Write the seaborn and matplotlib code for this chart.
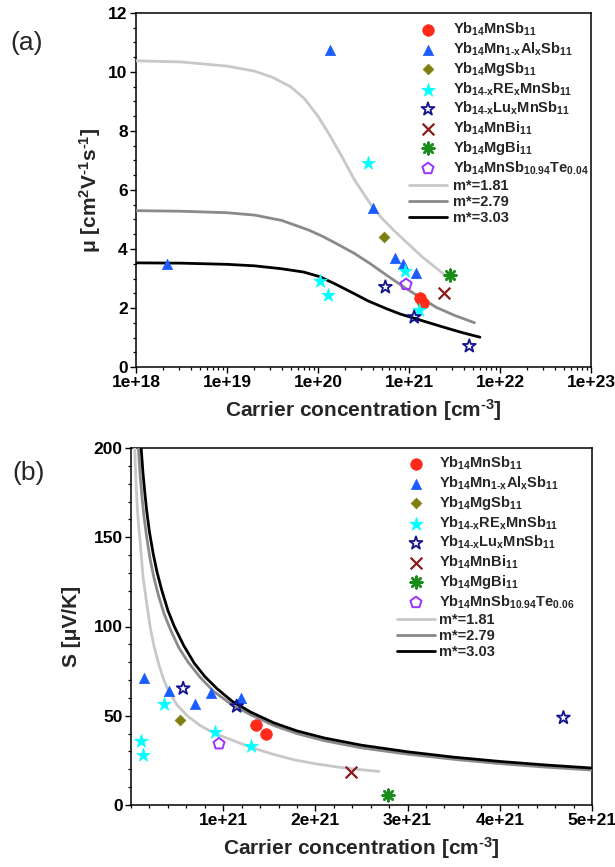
import numpy as np
import pandas as pd
import matplotlib
matplotlib.use("Agg")
import matplotlib.pyplot as plt
import seaborn as sns
from matplotlib.ticker import MultipleLocator, LogLocator, NullFormatter, FixedLocator

HY = "\u2010"  # short hyphen used in the formula subscripts

# ---------------- data: panel (a) mobility vs carrier concentration ----------------
series_labels_a = [r"Yb$_{14}$MnSb$_{11}$", "Yb$_{14}$Mn$_{1" + HY + "x}$Al$_{x}$Sb$_{11}$",
                   r"Yb$_{14}$MgSb$_{11}$", "Yb$_{14" + HY + "x}$RE$_{x}$MnSb$_{11}$",
                   "Yb$_{14" + HY + "x}$Lu$_{x}$MnSb$_{11}$", r"Yb$_{14}$MnBi$_{11}$",
                   r"Yb$_{14}$MgBi$_{11}$", r"Yb$_{14}$MnSb$_{10.94}$Te$_{0.04}$"]
series_labels_b = series_labels_a[:7] + [r"Yb$_{14}$MnSb$_{10.94}$Te$_{0.06}$"]

mnsb_a_n = [1.32e21, 1.44e21];                    mnsb_a_mu = [2.33, 2.18]
al_a_n = [2.17e18, 1.35e20, 4.05e20, 7.0e20, 8.65e20, 1.18e21]
al_a_mu = [3.49, 10.75, 5.38, 3.68, 3.49, 3.20]
mg_a_n = [5.3e20];                                mg_a_mu = [4.41]
re_a_n = [1.05e20, 1.3e20, 3.57e20, 9.0e20, 1.3e21]
re_a_mu = [2.91, 2.43, 6.90, 3.24, 1.94]
lu_a_n = [5.5e20, 1.14e21, 4.6e21];               lu_a_mu = [2.71, 1.69, 0.71]
bi_a_n = [2.4e21];                                bi_a_mu = [2.51]
mgbi_a_n = [2.8e21];                              mgbi_a_mu = [3.13]
te_a_n = [9.3e20];                                te_a_mu = [2.80]

m181_a_n = [1e18, 3.16e18, 1e19, 2e19, 3.16e19, 5.0e19, 7.08e19, 1e20, 1.35e20, 1.78e20,
            2.51e20, 3.72e20, 5.01e20, 6.76e20, 1e21, 1.41e21, 2e21, 2.82e21]
m181_a_mu = [10.38, 10.34, 10.2, 10.03, 9.82, 9.5, 9.1, 8.5, 7.85, 7.2,
             6.35, 5.55, 5.05, 4.64, 4.15, 3.72, 3.35, 2.97]
m279_a_n = [1e18, 3.16e18, 1e19, 2e19, 3.98e19, 7.94e19, 1.12e20, 1.58e20, 2.51e20, 3.72e20,
            5.62e20, 8.71e20, 1.26e21, 2e21, 3.16e21, 5.25e21]
m279_a_mu = [5.30, 5.28, 5.23, 5.15, 4.97, 4.64, 4.43, 4.19, 3.85, 3.51,
             3.12, 2.72, 2.4, 2.02, 1.75, 1.50]
m303_a_n = [1e18, 3.16e18, 1e19, 2e19, 3.98e19, 6.92e19, 1.05e20, 1.58e20, 2.45e20, 3.55e20,
            5.62e20, 7.94e20, 1.12e21, 1.58e21, 2.4e21, 3.8e21, 6.03e21]
m303_a_mu = [3.53, 3.52, 3.48, 3.43, 3.33, 3.22, 3.06, 2.8, 2.5, 2.24,
             1.98, 1.8, 1.66, 1.52, 1.35, 1.17, 1.01]

# ---------------- data: panel (b) Seebeck vs carrier concentration ----------------
mnsb_b_n = [1.36e21, 1.46e21];                    mnsb_b_S = [45.0, 40.0]
al_b_n = [0.144e21, 0.414e21, 0.695e21, 0.872e21, 1.19e21]
al_b_S = [70.9, 63.8, 56.7, 62.9, 59.7]
mg_b_n = [0.53e21];                               mg_b_S = [47.8]
re_b_n = [0.108e21, 0.126e21, 0.36e21, 0.912e21, 1.297e21]
re_b_S = [35.6, 27.8, 56.7, 40.7, 32.8]
lu_b_n = [0.566e21, 1.146e21, 4.69e21];           lu_b_S = [65.3, 55.3, 48.9]
bi_b_n = [2.39e21];                               bi_b_S = [18.3]
mgbi_b_n = [2.79e21];                             mgbi_b_S = [5.6]
te_b_n = [0.955e21];                              te_b_S = [34.3]

m181_b_n = [0.04e21, 0.055e21, 0.07e21, 0.085e21, 0.1e21, 0.13e21, 0.17e21, 0.21e21,
            0.25e21, 0.3e21, 0.35e21, 0.4e21, 0.5e21, 0.61e21, 0.75e21, 0.9e21,
            1.1e21, 1.3e21, 1.55e21, 1.77e21, 2.0e21, 2.25e21, 2.49e21, 2.69e21]
m181_b_S = [200, 180, 165, 155, 147, 128, 113, 99,
            89, 79, 71, 64.5, 56, 50, 44.5, 40.3,
            36.3, 32.3, 28.3, 25.3, 23.1, 21.2, 19.8, 18.8]
m279_b_n = [0.08e21, 0.1e21, 0.12e21, 0.14e21, 0.17e21, 0.21e21, 0.25e21, 0.3e21,
            0.36e21, 0.43e21, 0.52e21, 0.62e21, 0.75e21, 0.9e21, 1.1e21, 1.3e21,
            1.55e21, 1.8e21, 2.1e21, 2.5e21, 3.0e21, 3.5e21, 4.0e21, 4.5e21, 5.0e21]
m279_b_S = [200, 184, 172, 162, 150, 137, 127, 117,
            107, 98, 88, 80, 71.5, 63.5, 56, 50.5,
            44.5, 40, 36, 32, 28.5, 25.6, 23.2, 21.2, 19.6]
m303_b_n = [0.11e21, 0.13e21, 0.15e21, 0.17e21, 0.2e21, 0.24e21, 0.28e21, 0.33e21,
            0.4e21, 0.47e21, 0.57e21, 0.685e21, 0.8e21, 0.937e21, 1.1e21, 1.3e21,
            1.55e21, 1.8e21, 2.1e21, 2.5e21, 3.0e21, 3.5e21, 4.0e21, 4.5e21, 5.0e21]
m303_b_S = [200, 186, 175, 165, 153, 141, 131, 121,
            109, 100, 89.5, 79.5, 72, 65, 58, 52,
            46, 41.5, 37.5, 33.5, 29.8, 26.8, 24.4, 22.4, 20.7]

curve_labels = ["m*=1.81", "m*=2.79", "m*=3.03"]

xticks_a = [1e18, 1e19, 1e20, 1e21, 1e22, 1e23]
xticklabels_a = ["1e+18", "1e+19", "1e+20", "1e+21", "1e+22", "1e+23"]
xticks_b = [1e21, 2e21, 3e21, 4e21, 5e21]
xticklabels_b = ["1e+21", "2e+21", "3e+21", "4e+21", "5e+21"]

# ---------------- styles ----------------
styles = [
    dict(marker="o", color="#ff2a1a", s=70, edgecolor="#ff2a1a", linewidth=0.5),
    dict(marker="^", color="#1a5cff", s=55, edgecolor="#1a5cff", linewidth=0.5),
    dict(marker="D", color="#7f7f10", s=30, edgecolor="#7f7f10", linewidth=0.5),
    dict(marker="*", color="#00ffff", s=105, edgecolor="#00ffff", linewidth=0.5),
    dict(marker="*", color="#14148c", s=95, facecolor="none", edgecolor="#14148c", linewidth=1.3),
    dict(marker="x", color="#8b1a1a", s=70, linewidth=1.6),
    dict(marker=(8, 2, 0), color="#1a8c1a", s=70, linewidth=1.8),
    dict(marker="p", color="#9933ff", s=70, facecolor="none", edgecolor="#9933ff", linewidth=1.4),
]
curve_colors = ["#c8c8c8", "#8a8a8a", "#000000"]

sns.set_theme(style="ticks")
plt.rcParams["font.family"] = ["Liberation Sans", "DejaVu Sans"]
plt.rcParams["font.weight"] = "bold"
plt.rcParams["mathtext.fontset"] = "custom"
plt.rcParams["mathtext.rm"] = "Liberation Sans:bold"
plt.rcParams["mathtext.bf"] = "Liberation Sans:bold"
plt.rcParams["mathtext.it"] = "Liberation Sans:bold"
plt.rcParams["mathtext.sf"] = "Liberation Sans:bold"
plt.rcParams["mathtext.default"] = "rm"
plt.rcParams["axes.edgecolor"] = "black"
plt.rcParams["xtick.color"] = "black"
plt.rcParams["ytick.color"] = "black"

fig = plt.figure(figsize=(6.15, 8.67), dpi=100)
W, H = 615, 867
ax_a = fig.add_axes([136 / W, 1 - 367 / H, (591 - 136) / W, (367 - 13) / H])
ax_b = fig.add_axes([131 / W, 1 - 805 / H, (592 - 131) / W, (805 - 448) / H])


def draw(ax, groups, labels, curves):
    for (xs, ys), lab, st in zip(groups, labels, styles):
        sns.scatterplot(x=xs, y=ys, ax=ax, label=lab, zorder=4, **dict(st))
    for (xs, ys), lab, c in zip(curves, curve_labels, curve_colors):
        sns.lineplot(x=xs, y=ys, ax=ax, color=c, lw=2.0, label=lab, zorder=3,
                     estimator=None, sort=True)


groups_a = [(mnsb_a_n, mnsb_a_mu), (al_a_n, al_a_mu), (mg_a_n, mg_a_mu), (re_a_n, re_a_mu),
            (lu_a_n, lu_a_mu), (bi_a_n, bi_a_mu), (mgbi_a_n, mgbi_a_mu), (te_a_n, te_a_mu)]
curves_a = [(m181_a_n, m181_a_mu), (m279_a_n, m279_a_mu), (m303_a_n, m303_a_mu)]
groups_b = [(mnsb_b_n, mnsb_b_S), (al_b_n, al_b_S), (mg_b_n, mg_b_S), (re_b_n, re_b_S),
            (lu_b_n, lu_b_S), (bi_b_n, bi_b_S), (mgbi_b_n, mgbi_b_S), (te_b_n, te_b_S)]
curves_b = [(m181_b_n, m181_b_S), (m279_b_n, m279_b_S), (m303_b_n, m303_b_S)]

ax_a.set_xscale("log")
draw(ax_a, groups_a, series_labels_a, curves_a)
draw(ax_b, groups_b, series_labels_b, curves_b)

# ---- axes (a)
ax_a.set_xlim(1e18, 1e23)
ax_a.set_ylim(0, 12)
ax_a.xaxis.set_major_locator(FixedLocator(xticks_a))
ax_a.set_xticklabels(xticklabels_a)
ax_a.xaxis.set_minor_locator(LogLocator(base=10, subs=np.arange(2, 10), numticks=50))
ax_a.xaxis.set_minor_formatter(NullFormatter())
ax_a.yaxis.set_major_locator(MultipleLocator(2))
ax_a.yaxis.set_minor_locator(MultipleLocator(0.5))
ax_a.set_ylabel("μ [cm$^{2}$V$^{" + HY + "1}$s$^{" + HY + "1}$]", fontsize=15, fontweight="bold", labelpad=4)
ax_a.set_xlabel("Carrier concentration [cm$^{" + HY + "3}$]", fontsize=15, fontweight="bold", labelpad=5)

# ---- axes (b)
ax_b.set_xlim(0, 5e21)
ax_b.set_ylim(0, 200)
ax_b.set_xticks(xticks_b)
ax_b.set_xticklabels(xticklabels_b)
ax_b.xaxis.set_minor_locator(MultipleLocator(0.2e21))
ax_b.yaxis.set_major_locator(MultipleLocator(50))
ax_b.yaxis.set_minor_locator(MultipleLocator(10))
ax_b.set_ylabel("S [μV/K]", fontsize=15, fontweight="bold", labelpad=9)
ax_b.set_xlabel("Carrier concentration [cm$^{" + HY + "3}$]", fontsize=15, fontweight="bold", labelpad=5)

for ax in (ax_a, ax_b):
    for sp in ax.spines.values():
        sp.set_linewidth(1.1)
        sp.set_color("black")
        sp.set_visible(True)
    ax.tick_params(which="major", direction="out", length=4, width=1.0, labelsize=12.5,
                   top=False, right=False, pad=2)
    ax.tick_params(which="minor", direction="out", length=2.5, width=0.9,
                   top=False, right=False)
    for t in ax.get_xticklabels() + ax.get_yticklabels():
        t.set_fontweight("bold")
    ax.set_facecolor("white")

# ---- legends
leg_kw = dict(frameon=False, loc="upper left", handlelength=2.6,
              handletextpad=0.45, labelspacing=0.15, borderpad=0, borderaxespad=0,
              bbox_transform=fig.transFigure, prop=dict(weight="bold", size=10.5))
h, l = ax_a.get_legend_handles_labels()
ax_a.legend(h, l, bbox_to_anchor=(409 / W, 1 - 21 / H), **leg_kw)
h, l = ax_b.get_legend_handles_labels()
leg_kw["handletextpad"] = 0.3
ax_b.legend(h, l, bbox_to_anchor=(397 / W, 1 - 455 / H), **leg_kw)

fig.text(10 / W, 1 - 43 / H, "(a)", fontsize=19, fontweight="normal", va="center", ha="left")
fig.text(12 / W, 1 - 473 / H, "(b)", fontsize=19, fontweight="normal", va="center", ha="left")

fig.savefig("out.png", dpi=100, facecolor="white")
